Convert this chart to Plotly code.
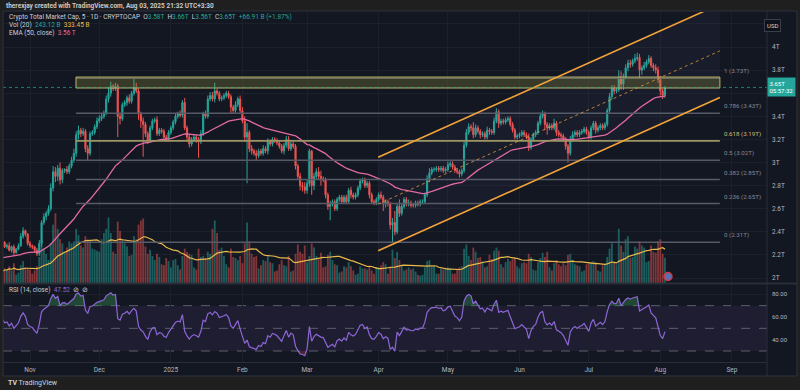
import numpy as np
import pandas as pd
import plotly.graph_objects as go

# ---------------- DATA ----------------
start_date = "2024-10-20"
open_first = 2.30
ema_start = 2.17           # EMA(50) value just before the first visible candle
rsi_seed_gain = 0.030      # Wilder averages just before the first candle
rsi_seed_loss = 0.022

c_oct = [2.31, 2.27, 2.28, 2.24, 2.27, 2.22, 2.25, 2.28, 2.36, 2.41, 2.38, 2.30]
c_nov = [2.28, 2.27, 2.24, 2.21, 2.30, 2.48, 2.53, 2.56, 2.60, 2.78, 2.92, 2.88, 2.95, 2.85, 2.93,
         2.94, 2.92, 2.97, 3.02, 3.08, 3.24, 3.28, 3.25, 3.27, 3.12, 3.08, 3.25, 3.26, 3.31, 3.36]
c_dec = [3.38, 3.40, 3.43, 3.55, 3.60, 3.66, 3.64, 3.66, 3.40, 3.38, 3.50, 3.52, 3.56, 3.53, 3.60,
         3.65, 3.62, 3.42, 3.36, 3.33, 3.25, 3.19, 3.30, 3.36, 3.37, 3.25, 3.28, 3.27, 3.22, 3.20, 3.26]
c_jan = [3.30, 3.35, 3.40, 3.42, 3.41, 3.52, 3.30, 3.22, 3.16, 3.20, 3.22, 3.20, 3.18, 3.25, 3.42,
         3.40, 3.55, 3.58, 3.55, 3.62, 3.60, 3.55, 3.56, 3.58, 3.60, 3.57, 3.48, 3.45, 3.50, 3.55, 3.45]
c_feb = [3.36, 3.22, 3.26, 3.12, 3.10, 3.08, 3.06, 3.10, 3.08, 3.12, 3.10, 3.18, 3.16, 3.20, 3.19,
         3.17, 3.14, 3.10, 3.15, 3.20, 3.12, 3.16, 3.14, 2.97, 2.88, 2.80, 2.79, 2.76]
c_mar = [2.82, 3.10, 2.80, 2.88, 2.92, 2.88, 2.86, 2.85, 2.72, 2.62, 2.64, 2.66, 2.60, 2.68, 2.70,
         2.66, 2.70, 2.66, 2.76, 2.72, 2.70, 2.72, 2.78, 2.84, 2.85, 2.80, 2.82, 2.72, 2.66, 2.65, 2.68]
c_apr = [2.72, 2.70, 2.64, 2.66, 2.64, 2.46, 2.48, 2.40, 2.62, 2.56, 2.62, 2.68, 2.64, 2.65, 2.63,
         2.63, 2.65, 2.64, 2.66, 2.66, 2.72, 2.86, 2.91, 2.94, 2.94, 2.95, 2.94, 2.95, 2.93, 2.94]
c_may = [2.98, 2.99, 2.96, 2.93, 2.92, 2.90, 2.93, 3.15, 3.26, 3.31, 3.30, 3.24, 3.30, 3.27, 3.24,
         3.25, 3.22, 3.28, 3.27, 3.26, 3.36, 3.44, 3.34, 3.36, 3.35, 3.37, 3.38, 3.33, 3.28, 3.22, 3.23]
c_jun = [3.24, 3.26, 3.24, 3.22, 3.13, 3.20, 3.24, 3.26, 3.34, 3.40, 3.42, 3.33, 3.30, 3.32, 3.30,
         3.34, 3.26, 3.24, 3.23, 3.20, 3.14, 3.08, 3.20, 3.24, 3.26, 3.24, 3.26, 3.27, 3.29, 3.26]
c_jul = [3.22, 3.30, 3.34, 3.28, 3.30, 3.32, 3.30, 3.33, 3.45, 3.57, 3.64, 3.62, 3.63, 3.74, 3.68,
         3.74, 3.82, 3.86, 3.85, 3.88, 3.90, 3.91, 3.80, 3.82, 3.84, 3.87, 3.90, 3.84, 3.82, 3.80, 3.72]
c_aug = [3.62, 3.58, 3.65]

# upper / lower wick lengths in hundredths of a trillion
wu_oct = [2, 1, 2, 3, 1, 2, 1, 2, 3, 3, 1, 1]
wl_oct = [2, 1, 2, 1, 2, 2, 1, 1, 1, 2, 2, 2]
wu_nov = [2, 1, 1, 2, 3, 2, 3, 2, 3, 4, 5, 4, 3, 5, 2, 1, 3, 2, 3, 4, 3, 4, 2, 3, 2, 3, 2, 2, 2, 3]
wl_nov = [2, 2, 2, 2, 2, 3, 2, 3, 2, 2, 3, 5, 4, 4, 3, 2, 2, 2, 2, 2, 3, 4, 3, 2, 3, 6, 2, 2, 2, 2]
wu_dec = [3, 3, 2, 3, 5, 4, 2, 3, 2, 3, 2, 2, 2, 3, 2, 8, 4, 2, 2, 3, 2, 2, 2, 2, 2, 3, 2, 2, 2, 2, 2]
wl_dec = [2, 2, 2, 2, 3, 3, 2, 2, 18, 5, 2, 2, 3, 2, 2, 2, 2, 5, 6, 28, 3, 3, 2, 2, 2, 2, 2, 2, 2, 2, 2]
wu_jan = [2, 2, 2, 2, 3, 2, 4, 2, 2, 2, 2, 2, 2, 3, 2, 3, 3, 3, 3, 7, 2, 2, 2, 2, 2, 2, 2, 2, 3, 2, 3]
wl_jan = [2, 2, 2, 2, 2, 2, 2, 4, 3, 2, 2, 3, 14, 2, 2, 2, 2, 2, 2, 3, 2, 2, 2, 2, 2, 2, 6, 2, 2, 2, 2]
wu_feb = [3, 4, 8, 2, 3, 2, 3, 2, 2, 3, 2, 3, 2, 2, 2, 2, 2, 2, 2, 3, 3, 2, 2, 2, 2, 3, 3, 4]
wl_feb = [2, 4, 40, 3, 3, 2, 4, 2, 2, 2, 2, 3, 2, 2, 2, 2, 2, 2, 3, 2, 2, 2, 2, 3, 3, 4, 4, 3]
wu_mar = [3, 2, 1, 3, 3, 4, 5, 2, 2, 2, 3, 2, 2, 2, 2, 2, 2, 2, 2, 3, 2, 2, 2, 2, 2, 2, 2, 2, 2, 2, 2]
wl_mar = [3, 3, 8, 4, 3, 3, 6, 2, 3, 3, 12, 2, 2, 2, 2, 2, 2, 2, 2, 3, 2, 2, 2, 2, 2, 2, 2, 3, 2, 2, 2]
wu_apr = [2, 3, 2, 2, 2, 2, 4, 10, 3, 6, 2, 2, 2, 3, 2, 2, 2, 2, 2, 2, 2, 3, 4, 2, 2, 2, 2, 2, 2, 2]
wl_apr = [2, 2, 6, 3, 2, 4, 15, 3, 2, 3, 2, 2, 2, 2, 2, 2, 2, 2, 2, 2, 2, 2, 3, 2, 2, 2, 2, 2, 2, 2]
wu_may = [3, 2, 2, 2, 2, 2, 2, 3, 3, 3, 2, 5, 3, 2, 2, 2, 2, 3, 2, 2, 3, 3, 2, 2, 2, 2, 2, 2, 2, 2, 2]
wl_may = [2, 2, 2, 2, 2, 3, 2, 2, 2, 2, 3, 3, 2, 2, 3, 2, 2, 2, 3, 2, 2, 2, 4, 2, 2, 2, 2, 2, 2, 2, 2]
wu_jun = [2, 2, 2, 2, 3, 2, 2, 2, 2, 3, 3, 2, 2, 2, 2, 4, 2, 2, 2, 2, 2, 2, 3, 3, 2, 2, 2, 2, 2, 2]
wl_jun = [2, 2, 2, 2, 3, 2, 2, 2, 2, 2, 2, 5, 6, 2, 2, 2, 3, 2, 2, 2, 3, 8, 2, 2, 2, 2, 2, 2, 2, 2]
wu_jul = [2, 2, 2, 2, 2, 2, 2, 2, 2, 3, 3, 3, 2, 6, 5, 3, 3, 3, 3, 2, 4, 4, 3, 2, 3, 2, 3, 2, 2, 3, 3]
wl_jul = [2, 2, 2, 3, 2, 2, 2, 2, 2, 2, 3, 3, 2, 2, 5, 5, 2, 3, 3, 2, 2, 2, 7, 4, 2, 2, 2, 2, 3, 3, 3]
wu_aug = [3, 2, 1]
wl_aug = [4, 3, 2]

# daily volume, billions USD
v_oct = [110, 140, 130, 160, 120, 190, 80, 100, 170, 210, 150, 140]
v_nov = [130, 90, 120, 160, 250, 420, 330, 280, 220, 380, 560, 670, 520, 420, 380, 300, 340, 400,
         380, 400, 520, 460, 360, 340, 450, 420, 400, 330, 320, 310]
v_dec = [300, 420, 480, 520, 630, 480, 300, 280, 590, 500, 420, 380, 350, 260, 270, 450, 420, 560,
         600, 620, 350, 280, 320, 260, 220, 280, 250, 180, 170, 240, 210]
v_jan = [150, 220, 230, 170, 130, 260, 330, 300, 280, 270, 150, 130, 330, 250, 260, 240, 300, 280,
         520, 600, 480, 320, 340, 260, 180, 150, 330, 250, 240, 220, 260]
v_feb = [190, 380, 580, 400, 280, 250, 260, 140, 170, 220, 210, 260, 200, 190, 110, 120, 180, 220,
         170, 160, 260, 110, 120, 280, 370, 300, 280, 360]
v_mar = [200, 260, 380, 340, 260, 230, 290, 150, 160, 270, 300, 220, 180, 170, 100, 110, 160, 150,
         200, 160, 120, 80, 90, 160, 140, 140, 130, 170, 120, 90, 150]
v_apr = [150, 170, 200, 180, 90, 160, 320, 240, 300, 220, 170, 120, 130, 150, 130, 140, 110, 80,
         70, 80, 150, 210, 220, 160, 170, 90, 90, 140, 130, 140]
v_may = [150, 140, 90, 90, 130, 150, 160, 330, 370, 260, 220, 340, 300, 240, 250, 210, 150, 160,
         270, 230, 310, 340, 310, 180, 150, 200, 230, 210, 230, 250, 160]
v_jun = [140, 190, 200, 190, 280, 250, 130, 120, 200, 240, 290, 250, 300, 150, 120, 190, 220, 180,
         160, 190, 170, 270, 280, 220, 180, 170, 160, 110, 120, 180]
v_jul = [190, 200, 210, 200, 120, 110, 170, 180, 250, 330, 380, 200, 180, 520, 360, 300, 420, 450,
         240, 250, 350, 330, 400, 360, 340, 200, 210, 360, 300, 290, 400]
v_aug = [420, 280, 243]

# drawings (dates / prices)
fib_low, fib_high = 2.31, 3.73
fib_ratios = [0, 0.236, 0.382, 0.5, 0.618, 0.786, 1]
fib_names = ["0", "0.236", "0.382", "0.5", "0.618", "0.786", "1"]
fib_x0, fib_x1 = "2024-11-20 22:00", "2025-08-26 19:00"
box_lo, box_hi = 3.645, 3.74
ch_x0, ch_x1 = "2025-03-31 19:00", "2025-08-26 19:00"
ch_low0, ch_low1 = 2.236, 3.562
ch_up0, ch_up1 = 3.045, 4.371
last_price = 3.65

price_ticks = [2.0, 2.2, 2.4, 2.6, 2.8, 3.0, 3.2, 3.4, 3.6, 3.8, 4.0, 4.2]
price_labels = ["2T", "2.2T", "2.4T", "2.6T", "2.8T", "3T", "3.2T", "3.4T", "", "3.8T", "4T", ""]
month_ticks = ["2024-11-01", "2024-12-01", "2025-01-01", "2025-02-01", "2025-03-01", "2025-04-01",
               "2025-05-01", "2025-06-01", "2025-07-01", "2025-08-01", "2025-09-01"]
month_labels = ["Nov", "Dec", "2025", "Feb", "Mar", "Apr", "May", "Jun", "Jul", "Aug", "Sep"]
rsi_ticks = [40, 60, 80]
rsi_labels = ["40.00", "60.00", "80.00"]

# ---------------- build series ----------------
closes = np.array(c_oct + c_nov + c_dec + c_jan + c_feb + c_mar + c_apr + c_may + c_jun + c_jul + c_aug)
wu = np.array(wu_oct + wu_nov + wu_dec + wu_jan + wu_feb + wu_mar + wu_apr + wu_may + wu_jun + wu_jul + wu_aug) / 100
wl = np.array(wl_oct + wl_nov + wl_dec + wl_jan + wl_feb + wl_mar + wl_apr + wl_may + wl_jun + wl_jul + wl_aug) / 100
vols = np.array(v_oct + v_nov + v_dec + v_jan + v_feb + v_mar + v_apr + v_may + v_jun + v_jul + v_aug, dtype=float)
n = len(closes)
dates = pd.date_range(start_date, periods=n, freq="D")
opens = np.concatenate([[open_first], closes[:-1]])
highs = np.maximum(opens, closes) + wu
lows = np.minimum(opens, closes) - wl
up = closes >= opens

# EMA 50
alpha = 2 / 51
ema = np.empty(n)
e = ema_start
for i in range(n):
    e = e + alpha * (closes[i] - e)
    ema[i] = e

vol_ma = pd.Series(vols).rolling(20, min_periods=1).mean().values

# RSI 14 (Wilder)
ag, al = rsi_seed_gain, rsi_seed_loss
rsi = np.empty(n)
prev = open_first
for i in range(n):
    ch = closes[i] - prev
    prev = closes[i]
    ag = (ag * 13 + max(ch, 0)) / 14
    al = (al * 13 + max(-ch, 0)) / 14
    rsi[i] = 100 - 100 / (1 + ag / al)

# ---------------- colours ----------------
BG = "#131722"
UP = "#26a69a"
DN = "#ef5350"
GRID = "#1c202b"
TXT = "#b2b5be"
FONT = "Roboto"

fig = go.Figure()

# volume (base axis y)
fig.add_trace(go.Bar(x=dates, y=vols, xaxis="x", yaxis="y",
                     marker=dict(color=np.where(up, "rgba(38,166,154,0.5)", "rgba(239,83,80,0.5)"),
                                 line=dict(width=0)),
                     hoverinfo="skip"))
fig.add_trace(go.Scatter(x=dates, y=vol_ma, xaxis="x", yaxis="y", mode="lines",
                         line=dict(color="#e9b949", width=1.2), hoverinfo="skip"))

# channel fill
fig.add_trace(go.Scatter(x=[ch_x0, ch_x1, ch_x1, ch_x0], y=[ch_low0, ch_low1, ch_up1, ch_up0],
                         xaxis="x", yaxis="y3", mode="lines", fill="toself",
                         fillcolor="rgba(140,130,200,0.05)", line=dict(width=0), hoverinfo="skip"))

# candles
fig.add_trace(go.Candlestick(x=dates, open=opens, high=highs, low=lows, close=closes,
                             xaxis="x", yaxis="y3",
                             increasing=dict(line=dict(color=UP, width=1), fillcolor=UP),
                             decreasing=dict(line=dict(color=DN, width=1), fillcolor=DN),
                             whiskerwidth=0, hoverinfo="skip"))
fig.add_trace(go.Scatter(x=dates, y=ema, xaxis="x", yaxis="y3", mode="lines",
                         line=dict(color="#e26aa3", width=1.3), hoverinfo="skip"))

# RSI pane
rsi_over = np.maximum(rsi, 70)
rsi_under = np.minimum(rsi, 30)
fig.add_trace(go.Scatter(x=dates, y=np.full(n, 70.0), xaxis="x2", yaxis="y2", mode="lines",
                         line=dict(width=0), hoverinfo="skip"))
fig.add_trace(go.Scatter(x=dates, y=rsi_over, xaxis="x2", yaxis="y2", mode="lines", fill="tonexty",
                         fillcolor="rgba(60,160,90,0.35)", line=dict(width=0), hoverinfo="skip"))
fig.add_trace(go.Scatter(x=dates, y=np.full(n, 30.0), xaxis="x2", yaxis="y2", mode="lines",
                         line=dict(width=0), hoverinfo="skip"))
fig.add_trace(go.Scatter(x=dates, y=rsi_under, xaxis="x2", yaxis="y2", mode="lines", fill="tonexty",
                         fillcolor="rgba(220,70,70,0.3)", line=dict(width=0), hoverinfo="skip"))
fig.add_trace(go.Scatter(x=dates, y=rsi, xaxis="x2", yaxis="y2", mode="lines",
                         line=dict(color="#8e67d6", width=1.2), hoverinfo="skip"))

shapes = []
# RSI band + levels
shapes.append(dict(type="rect", xref="x2 domain", yref="y2", x0=0, x1=1, y0=30, y1=70,
                   fillcolor="rgba(126,87,194,0.10)", line=dict(width=0), layer="below"))
for lv in (70, 50, 30):
    shapes.append(dict(type="line", xref="x2 domain", yref="y2", x0=0, x1=1, y0=lv, y1=lv,
                       line=dict(color="#5d606b", width=1, dash="dash"), layer="below"))

# fib levels
for r, name in zip(fib_ratios, fib_names):
    p = fib_low + r * (fib_high - fib_low)
    col = "#9c9463" if name == "0.618" else "#575b67"
    shapes.append(dict(type="line", xref="x", yref="y3", x0=fib_x0, x1=fib_x1, y0=p, y1=p,
                       line=dict(color=col, width=1.6), layer="above"))
# resistance box
shapes.append(dict(type="rect", xref="x", yref="y3", x0=fib_x0, x1=fib_x1, y0=box_lo, y1=box_hi,
                   fillcolor="rgba(160,160,60,0.26)", line=dict(color="#b9b56c", width=1), layer="above"))
# channel lines
shapes.append(dict(type="line", xref="x", yref="y3", x0=ch_x0, x1=ch_x1, y0=ch_low0, y1=ch_low1,
                   line=dict(color="#f2a33a", width=1.6), layer="above"))
shapes.append(dict(type="line", xref="x", yref="y3", x0=ch_x0, x1=ch_x1, y0=ch_up0, y1=ch_up1,
                   line=dict(color="#f2a33a", width=1.6), layer="above"))
shapes.append(dict(type="line", xref="x", yref="y3", x0=ch_x0, x1=ch_x1,
                   y0=(ch_low0 + ch_up0) / 2, y1=(ch_low1 + ch_up1) / 2,
                   line=dict(color="rgba(242,163,58,0.75)", width=1, dash="dot"), layer="above"))
# last price line
shapes.append(dict(type="line", xref="x domain", yref="y3", x0=0, x1=1, y0=last_price, y1=last_price,
                   line=dict(color="rgba(38,166,154,0.7)", width=1, dash="dot"), layer="above"))


# frame pieces (paper coords: px -> (px-3)/764, py -> (362-py)/350)
def px(x):
    return (x - 3) / 764


def py(y):
    return (362 - y) / 350


shapes.append(dict(type="rect", xref="paper", yref="paper", x0=px(-5), x1=px(805), y0=py(-5), y1=py(11),
                   fillcolor="#1f1f1f", line=dict(width=0), layer="above"))
shapes.append(dict(type="rect", xref="paper", yref="paper", x0=px(-5), x1=px(805), y0=py(376), y1=py(395),
                   fillcolor="#1f1f1f", line=dict(width=0), layer="above"))
shapes.append(dict(type="rect", xref="paper", yref="paper", x0=px(-5), x1=px(3), y0=py(376), y1=py(11),
                   fillcolor="#1f1f1f", line=dict(width=0), layer="above"))
shapes.append(dict(type="rect", xref="paper", yref="paper", x0=px(797), x1=px(805), y0=py(376), y1=py(11),
                   fillcolor="#1f1f1f", line=dict(width=0), layer="above"))
shapes.append(dict(type="rect", xref="paper", yref="paper", x0=px(3), x1=px(797), y0=py(376), y1=py(11),
                   fillcolor="rgba(0,0,0,0)", line=dict(color="#2f333e", width=1), layer="above"))
shapes.append(dict(type="line", xref="paper", yref="paper", x0=px(3), x1=px(797), y0=py(283.5), y1=py(283.5),
                   line=dict(color="#2a2e39", width=2), layer="above"))
shapes.append(dict(type="line", xref="paper", yref="paper", x0=px(767), x1=px(767), y0=py(376), y1=py(11),
                   line=dict(color="#2a2e39", width=1), layer="above"))
shapes.append(dict(type="line", xref="paper", yref="paper", x0=px(3), x1=px(767), y0=py(362.5), y1=py(362.5),
                   line=dict(color="#2a2e39", width=1), layer="above"))
# event flag icon
shapes.append(dict(type="circle", xref="paper", yref="paper", x0=px(664), x1=px(672), y0=py(280.5), y1=py(272.5),
                   fillcolor="#5b6fb5", line=dict(color="#d03a3a", width=1.5), layer="above"))

ann = []


def text(x, y, s, size=6.5, color=TXT, xanchor="left", yanchor="middle", **kw):
    ann.append(dict(xref="paper", yref="paper", x=px(x), y=py(y), text=s, showarrow=False,
                    xanchor=xanchor, yanchor=yanchor, font=dict(family=FONT, size=size, color=color), **kw))


text(4, 5.5, "<b>therexjay created with TradingView.com, Aug 03, 2025 21:32 UTC+3:30</b>", size=6.5, color="#c8c8c8")
g = UP
text(7, 16.5,
     "Crypto Total Market Cap, 5 · 1D · CRYPTOCAP  "
     f"O<span style='color:{g}'>3.58T</span>  H<span style='color:{g}'>3.66T</span>  "
     f"L<span style='color:{g}'>3.56T</span>  C<span style='color:{g}'>3.65T</span>  "
     f"<span style='color:{g}'>+66.91 B (+1.87%)</span>", size=6.5, color="#c9ccd6")
text(7, 25, f"Vol (20)  <span style='color:{g}'>243.12 B</span>  <span style='color:#e9b949'>333.45 B</span>",
     size=6.5, color="#c9ccd6")
text(7, 33, "EMA (50, close)  <span style='color:#e26aa3'>3.56 T</span>", size=6.5, color="#c9ccd6")
text(7, 289.5, "RSI (14, close)  <span style='color:#8e67d6'>47.52</span>  ⊘  ⊘", size=6.5, color="#c9ccd6")
text(6, 383, "<b>TV</b> TradingView", size=7, color="#d1d4dc")

# USD box
ann.append(dict(xref="paper", yref="paper", x=px(781), y=py(19), text="USD", showarrow=False,
                font=dict(family=FONT, size=6, color="#d1d4dc"), bgcolor="#0f121a",
                bordercolor="#3a3e4a", borderwidth=1, borderpad=2))

# fib labels
for r, name in zip(fib_ratios, fib_names):
    p = fib_low + r * (fib_high - fib_low)
    col = "#c8bc78" if name == "0.618" else "#868993"
    ann.append(dict(xref="x", yref="y3", x="2025-08-27 18:00", y=p, yanchor="bottom", xanchor="left",
                    text=f"{name} ({p:.2f}T)", showarrow=False, yshift=1,
                    font=dict(family=FONT, size=6.2, color=col)))

# last price tag
ann.append(dict(xref="paper", yref="y3", x=px(767.5), y=last_price, xanchor="left", yanchor="middle",
                text="3.65T<br>05:57:32", showarrow=False, align="left",
                font=dict(family=FONT, size=6, color="#ffffff"), bgcolor=UP, borderpad=1.5))

axis_common = dict(showline=False, zeroline=False, ticks="", fixedrange=True)

fig.update_layout(
    width=800, height=390,
    margin=dict(l=3, r=33, t=12, b=28),
    paper_bgcolor=BG, plot_bgcolor=BG,
    showlegend=False, bargap=0.2,
    xaxis=dict(domain=[0, 1], anchor="y", type="date",
               range=["2024-10-20 07:12", "2025-09-16 04:48"],
               tickvals=month_ticks, showticklabels=False, showgrid=True, gridcolor=GRID,
               rangeslider=dict(visible=False), **axis_common),
    yaxis=dict(domain=[(362 - 283) / 350, 1], anchor="x", range=[0, 271 * 9.6], visible=False,
               showgrid=False, fixedrange=True),
    yaxis3=dict(overlaying="y", anchor="x", side="right", range=[1.957, 4.303],
                tickvals=price_ticks, ticktext=price_labels, showgrid=True, gridcolor=GRID,
                tickfont=dict(family=FONT, size=6.5, color=TXT), ticklabelstandoff=4, **axis_common),
    xaxis2=dict(domain=[0, 1], anchor="y2", type="date", matches="x",
                tickvals=month_ticks, ticktext=month_labels, showgrid=True, gridcolor=GRID,
                tickfont=dict(family=FONT, size=6.5, color=TXT), ticklabelstandoff=2, **axis_common),
    yaxis2=dict(domain=[0, (362 - 284) / 350], anchor="x2", side="right", range=[20.3, 89.1],
                tickvals=rsi_ticks, ticktext=rsi_labels, showgrid=True, gridcolor=GRID,
                tickfont=dict(family=FONT, size=6, color=TXT), ticklabelstandoff=4, **axis_common),
    shapes=shapes, annotations=ann,
)

fig.write_html("out.html", config=dict(displayModeBar=False),
               post_script="document.body.style.margin='0';document.body.style.overflow='hidden';")
